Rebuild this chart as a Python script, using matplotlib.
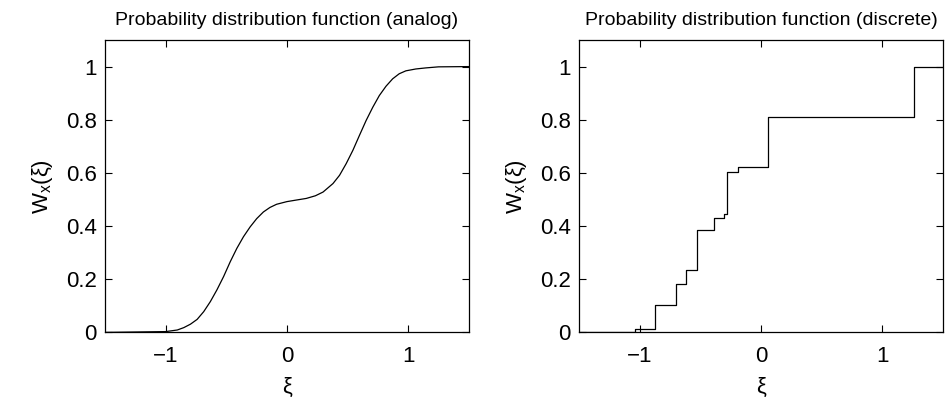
import matplotlib
matplotlib.use("Agg")
import matplotlib.pyplot as plt

plt.rcParams['font.family'] = ['Liberation Sans', 'DejaVu Sans']
plt.rcParams['mathtext.fontset'] = 'custom'
plt.rcParams['mathtext.rm'] = 'Liberation Sans'
plt.rcParams['mathtext.it'] = 'Liberation Sans'

# Analog CDF
analog_x = [-1.5, -1.0, -0.904, -0.85, -0.795, -0.74, -0.686, -0.631, -0.577,
            -0.522, -0.467, -0.413, -0.358, -0.303, -0.249, -0.194, -0.14,
            -0.085, 0.0, 0.079, 0.16, 0.235, 0.298, 0.38, 0.434, 0.489, 0.544,
            0.598, 0.653, 0.708, 0.762, 0.817, 0.872, 0.926, 0.981, 1.063,
            1.145, 1.25, 1.5]
analog_y = [0.0, 0.003, 0.009, 0.018, 0.031, 0.049, 0.078, 0.116, 0.16,
            0.21, 0.266, 0.316, 0.36, 0.397, 0.428, 0.453, 0.47,
            0.482, 0.492, 0.498, 0.504, 0.514, 0.528, 0.56, 0.591, 0.635, 0.685,
            0.741, 0.797, 0.847, 0.891, 0.926, 0.954, 0.973, 0.984, 0.991,
            0.995, 0.999, 1.0]

# Discrete CDF steps (step at x, new level)
disc_x = [-1.5, -1.04, -0.875, -0.702, -0.62, -0.531, -0.39, -0.307, -0.277,
          -0.192, 0.057, 1.265, 1.5]
disc_y = [0.0, 0.012, 0.103, 0.182, 0.234, 0.387, 0.432, 0.444, 0.604,
          0.622, 0.812, 1.0, 1.0]

titles = ['Probability distribution function (analog)',
          'Probability distribution function (discrete)']
xticks = [-1, 0, 1]
xticklabels = ['\u22121', '0', '1']
yticks = [0, 0.2, 0.4, 0.6, 0.8, 1]
yticklabels = ['0', '0.2', '0.4', '0.6', '0.8', '1']

fig = plt.figure(figsize=(9.5, 4), dpi=100)
ax1 = fig.add_axes([0.1105, 0.169, 0.383, 0.731])
ax2 = fig.add_axes([0.6095, 0.169, 0.383, 0.731])

ax1.plot(analog_x, analog_y, color='black', linewidth=0.9)
ax2.plot(disc_x, disc_y, color='black', linewidth=0.9, drawstyle='steps-post')

for ax, t in zip([ax1, ax2], titles):
    ax.set_xlim(-1.5, 1.5)
    ax.set_ylim(0, 1.1)
    ax.set_xticks(xticks)
    ax.set_xticklabels(xticklabels)
    ax.set_yticks(yticks)
    ax.set_yticklabels(yticklabels)
    ax.tick_params(direction='in', top=True, right=True, length=5, width=0.8,
                   labelsize=16, pad=6)
    ax.tick_params(axis='x', pad=10)
    for s in ax.spines.values():
        s.set_linewidth(0.9)
    ax.set_title(t, fontsize=14, pad=11)
    ax.set_xlabel('\u03be', fontsize=16, labelpad=7)
    ax.set_ylabel('W$_\\mathregular{x}$(\u03be)', fontsize=16, labelpad=8)

fig.savefig('out.png', dpi=100)
